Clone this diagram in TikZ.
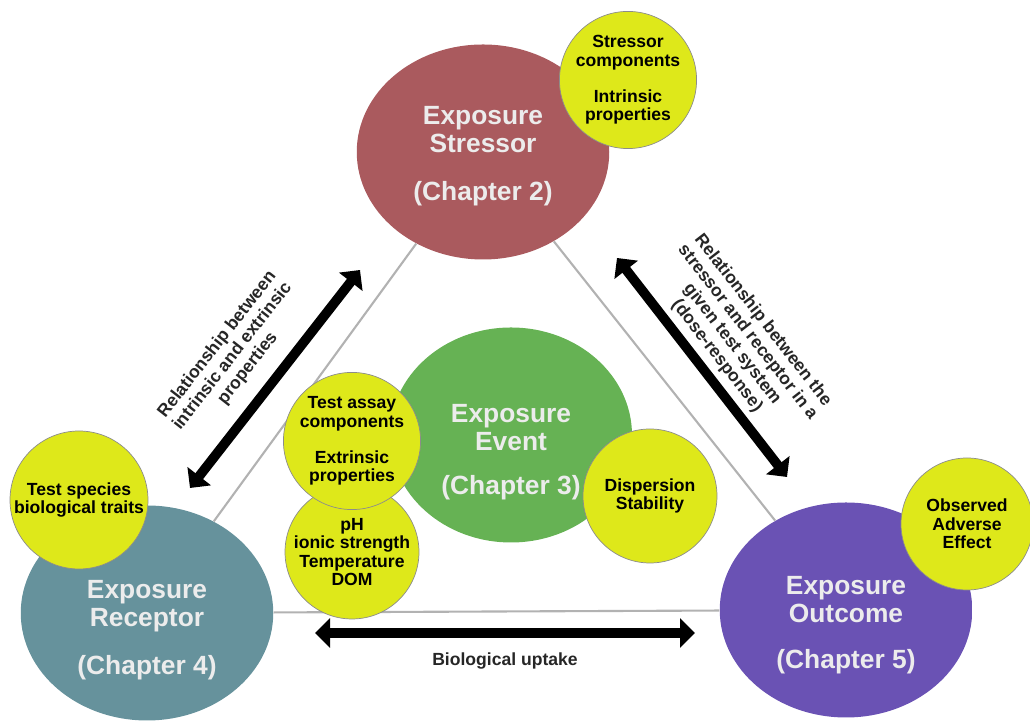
\documentclass[tikz,border=0pt]{standalone}
\usepackage{fontspec}
\setmainfont{Liberation Sans}
\usepackage{tikz}
\usetikzlibrary{arrows.meta,shapes.geometric,positioning}
\usepackage{xcolor}
\definecolor{exred}{RGB}{170,90,94}
\definecolor{exreddark}{RGB}{110,50,54}
\definecolor{exgreen}{RGB}{102,178,84}
\definecolor{exgreendark}{RGB}{55,115,45}
\definecolor{exteal}{RGB}{102,146,156}
\definecolor{extealdark}{RGB}{55,90,100}
\definecolor{expurple}{RGB}{106,82,180}
\definecolor{expurpledark}{RGB}{60,42,115}
\definecolor{exyellow}{RGB}{222,232,26}
\definecolor{exwhite}{RGB}{236,236,236}
\pgfdeclareradialshading{stressorshade}{\pgfpoint{0bp}{0bp}}{color(0bp)=(exred); color(42bp)=(exred); color(50bp)=(exreddark)}
\pgfdeclareradialshading{eventshade}{\pgfpoint{0bp}{0bp}}{color(0bp)=(exgreen); color(42bp)=(exgreen); color(50bp)=(exgreendark)}
\pgfdeclareradialshading{receptorshade}{\pgfpoint{0bp}{0bp}}{color(0bp)=(exteal); color(42bp)=(exteal); color(50bp)=(extealdark)}
\pgfdeclareradialshading{outcomeshade}{\pgfpoint{0bp}{0bp}}{color(0bp)=(expurple); color(42bp)=(expurple); color(50bp)=(expurpledark)}
\tikzstyle{chapter} = [ellipse, minimum width=5.05cm, minimum height=4.3cm, shade]
\tikzstyle{chaptertext} = [text centered, align=center, text=exwhite, font=\fontsize{15}{16}\selectfont\bfseries]
\tikzstyle{factor} = [circle, minimum size=2.7cm, inner sep=0pt, text centered, align=center, draw=black!45, fill=exyellow, font=\fontsize{10}{10.5}\selectfont\bfseries]
\tikzstyle{relation} = [{Triangle[length=0.3cm,width=0.58cm]}-{Triangle[length=0.3cm,width=0.58cm]}, line width=5.5pt, black]
\tikzstyle{link} = [draw=gray!60, line width=1.2pt]
\tikzstyle{note} = [font=\fontsize{10}{11}\selectfont\bfseries, align=center, text=black!85]

\begin{document}
\begin{tikzpicture}
\useasboundingbox (0,0) rectangle (20.6,14.44);
% Exposure ovals
\node (stressor) [chapter, shading=stressorshade] at (9.66,11.40) {};
\node (event) [chapter, shading=eventshade, minimum width=4.84cm] at (10.22,5.74) {};
\node (receptor) [chapter, shading=receptorshade] at (2.94,2.18) {};
\node (outcome) [chapter, shading=outcomeshade] at (16.92,2.24) {};

\node (stressortext) [chaptertext] at ([yshift=-0.08cm]stressor.center) {Exposure\\Stressor\\[11pt](Chapter 2)};
\node (eventtext) [chaptertext] at ([yshift=-0.34cm]event.center) {Exposure\\Event\\[9pt](Chapter 3)};
\node (receptortext) [chaptertext] at ([yshift=-0.34cm]receptor.center) {Exposure\\Receptor\\[11pt](Chapter 4)};
\node (outcometext) [chaptertext] at ([yshift=-0.3cm]outcome.center) {Exposure\\Outcome\\[10pt](Chapter 5)};

\draw[link] (stressor) -- (receptor);
\draw[link] (stressor) -- (outcome);
\draw[link] (receptor) -- (outcome);

% Yellow factors
\node (components) [factor] at (12.56,12.84) {Stressor\\components\\[10pt]Intrinsic\\properties};
\node (water) [factor, minimum size=2.64cm] at (7.04,3.40) {pH\\ionic strength\\Temperature\\DOM};
\node (assay) [factor] at (7.04,5.62) {Test assay\\components\\[10pt]Extrinsic\\properties};
\node (dispersion) [factor, minimum size=2.68cm] at (13.0,4.52) {Dispersion\\Stability};
\node (species) [factor, minimum size=2.76cm] at (1.58,4.44) {Test species\\biological traits};
\node (adverse) [factor, minimum size=2.64cm] at (19.34,3.96) {Observed\\Adverse\\Effect};

% Relationship arrows
\coordinate (leftlow) at (3.8,4.68);
\coordinate (lefthigh) at (7.2,9.04);
\coordinate (righthigh) at (12.34,9.28);
\coordinate (rightlow) at (15.74,4.90);
\coordinate (uptakeleft) at (6.3,1.78);
\coordinate (uptakeright) at (13.9,1.78);

\draw[relation] (leftlow) -- node[note, pos=0.47, sloped, above=0.18cm] {Relationship between\\intrinsic and extrinsic\\properties} (lefthigh);
\draw[relation] (righthigh) -- node[note, midway, sloped, above] {Relationship between the\\stressor and receptor in a\\given test system\\(dose-response)} (rightlow);
\draw[relation] (uptakeleft) -- node[note, midway, below=0.18cm] {Biological uptake} (uptakeright);
\end{tikzpicture}
\end{document}
